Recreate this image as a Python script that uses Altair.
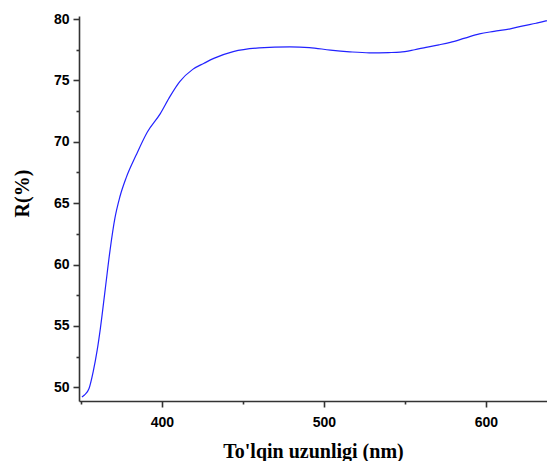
import altair as alt
import pandas as pd

wavelength = [350.6, 352, 355, 357.6, 360, 362, 365, 368, 371, 374, 378, 384, 391, 399,
              405, 411, 419, 426, 432, 444, 460, 479, 491, 504, 516, 528, 540, 547,
              556, 563, 571, 578, 587, 596, 605, 615, 623, 631, 637, 643]
reflect = [49.2, 49.35, 49.9, 51.3, 53.0, 54.8, 58.0, 61.2, 63.8, 65.5, 67.1, 68.9, 70.8, 72.3,
           73.7, 74.9, 75.9, 76.4, 76.8, 77.35, 77.65, 77.73, 77.68, 77.47, 77.33, 77.25, 77.27, 77.3,
           77.5, 77.7, 77.9, 78.1, 78.45, 78.8, 79.0, 79.2, 79.45, 79.66, 79.85, 80.1]

x_ticks = [350, 400, 450, 500, 550, 600, 650]
y_ticks = [50, 52.5, 55, 57.5, 60, 62.5, 65, 67.5, 70, 72.5, 75, 77.5, 80]

df = pd.DataFrame({"nm": wavelength, "R": reflect})

axis_color = "#333333"

chart = alt.Chart(df).mark_line(color="#2222ff", strokeWidth=1.2, clip=True,
                                interpolate="monotone").encode(
    x=alt.X("nm:Q",
            scale=alt.Scale(domain=[348.8, 637.7], nice=False, zero=False),
            axis=alt.Axis(values=x_ticks, grid=False,
                          labelExpr="datum.value % 100 == 0 ? datum.label : ''",
                          tickSize={"condition": {"test": "datum.value % 100 == 0", "value": 6}, "value": 3},
                          title="To'lqin uzunligi (nm)",
                          titleFont="Liberation Serif", titleFontSize=20, titleFontWeight="bold",
                          titleColor="black", titleY=56, titleBaseline="alphabetic",
                          labelFont="Liberation Sans", labelFontSize=14, labelFontWeight="bold",
                          labelColor="black", labelPadding=8,
                          domainColor=axis_color, domainWidth=1.6,
                          tickColor=axis_color, tickWidth=1.6)),
    y=alt.Y("R:Q",
            scale=alt.Scale(domain=[48.88, 80.25], nice=False, zero=False),
            axis=alt.Axis(values=y_ticks, grid=False,
                          labelExpr="datum.value % 5 == 0 ? datum.label : ''",
                          tickSize={"condition": {"test": "datum.value % 5 == 0", "value": 6}, "value": 3},
                          title="R(%)",
                          titleFont="Liberation Serif", titleFontSize=20, titleFontWeight="bold",
                          titleColor="black", titleX=-51, titleY=177, titleAngle=-90,
                          titleBaseline="alphabetic", titleAlign="center",
                          labelFont="Liberation Sans", labelFontSize=14, labelFontWeight="bold",
                          labelColor="black", labelPadding=4,
                          domainColor=axis_color, domainWidth=1.6,
                          tickColor=axis_color, tickWidth=1.6)),
).properties(
    width=468, height=385,
    autosize=alt.AutoSizeParams(type="none"),
    padding={"left": 71, "top": 8, "right": 0, "bottom": 60},
).configure_view(stroke=None)

chart.save("out.html", embed_options={"renderer": "svg", "actions": False})
